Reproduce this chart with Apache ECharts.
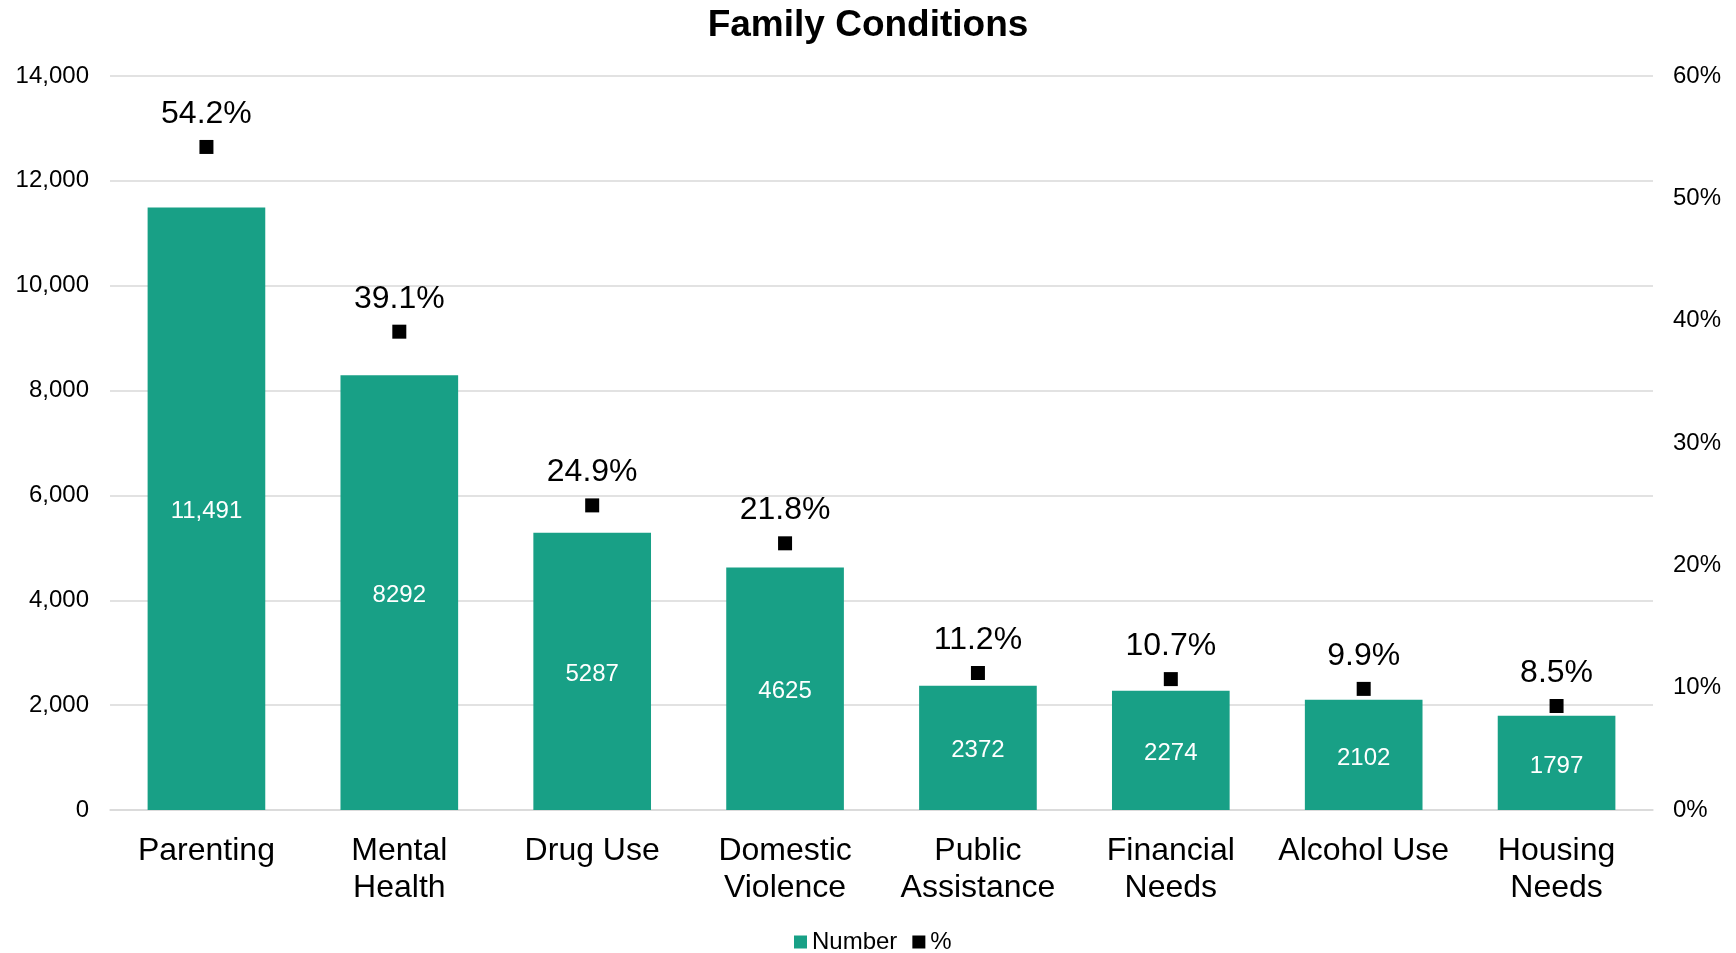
<!DOCTYPE html>
<html>
<head>
<meta charset="utf-8">
<title>Family Conditions</title>
<script src="https://cdn.jsdelivr.net/npm/echarts@6/dist/echarts.min.js"></script>
<style>
  html, body { margin: 0; padding: 0; background: #ffffff; }
  #chart { width: 1736px; height: 953px; }
</style>
</head>
<body>
<div id="chart"></div>
<script>
// Family conditions: case counts (bars, left axis) and share of families (markers, right axis)
const categories = ['Parenting', 'Mental\nHealth', 'Drug Use', 'Domestic\nViolence', 'Public\nAssistance', 'Financial\nNeeds', 'Alcohol Use', 'Housing\nNeeds'];
const numberValues = [11491, 8292, 5287, 4625, 2372, 2274, 2102, 1797];
const percentValues = [54.2, 39.1, 24.9, 21.8, 11.2, 10.7, 9.9, 8.5];

const FONT = '"Liberation Sans", Arial, sans-serif';
const TEAL = '#18A086';

const chart = echarts.init(document.getElementById('chart'), null, { renderer: 'canvas' });

chart.setOption({
  animation: false,
  backgroundColor: '#ffffff',
  textStyle: { fontFamily: FONT },
  title: {
    text: 'Family Conditions',
    left: 'center',
    top: 2,
    textStyle: { fontFamily: FONT, fontSize: 37, fontWeight: 'bold', color: '#000000' }
  },
  legend: {
    top: 930,
    left: 794,
    padding: 0,
    itemWidth: 13,
    itemHeight: 13,
    itemGap: 15,
    textStyle: { fontFamily: FONT, fontSize: 24, color: '#000000' },
    data: [
      { name: 'Number', icon: 'rect' },
      { name: '%', icon: 'rect' }
    ]
  },
  grid: { left: 110, right: 83, top: 76, bottom: 143, containLabel: false },
  xAxis: {
    type: 'category',
    data: categories,
    axisLine: { show: true, lineStyle: { color: '#d9d9d9', width: 1.5 } },
    axisTick: { show: false },
    axisLabel: {
      fontFamily: FONT, fontSize: 32, color: '#000000',
      lineHeight: 37, margin: 23, interval: 0
    }
  },
  yAxis: [
    {
      type: 'value',
      min: 0, max: 14000, interval: 2000,
      axisLine: { show: false },
      axisTick: { show: false },
      splitLine: { lineStyle: { color: '#d9d9d9', width: 1.5 } },
      axisLabel: {
        fontFamily: FONT, fontSize: 24, color: '#000000', margin: 21,
        formatter: v => v.toLocaleString('en-US')
      }
    },
    {
      type: 'value',
      min: 0, max: 60, interval: 10,
      axisLine: { show: false },
      axisTick: { show: false },
      splitLine: { show: false },
      axisLabel: {
        fontFamily: FONT, fontSize: 24, color: '#000000', margin: 20,
        formatter: v => v + '%'
      }
    }
  ],
  series: [
    {
      name: 'Number',
      type: 'bar',
      data: numberValues,
      barCategoryGap: '39%',
      itemStyle: { color: TEAL },
      label: {
        show: true,
        position: 'inside',
        offset: [0, 3],
        fontFamily: FONT,
        fontSize: 24,
        color: '#ffffff',
        formatter: p => p.value >= 10000 ? p.value.toLocaleString('en-US') : String(p.value)
      }
    },
    {
      name: '%',
      type: 'scatter',
      yAxisIndex: 1,
      data: percentValues,
      symbol: 'rect',
      symbolSize: 14,
      itemStyle: { color: '#000000', opacity: 1 },
      label: {
        show: true,
        position: 'top',
        distance: 10,
        fontFamily: FONT,
        fontSize: 32,
        color: '#000000',
        opacity: 1,
        formatter: p => p.value.toFixed(1) + '%'
      }
    }
  ]
});
</script>
</body>
</html>
